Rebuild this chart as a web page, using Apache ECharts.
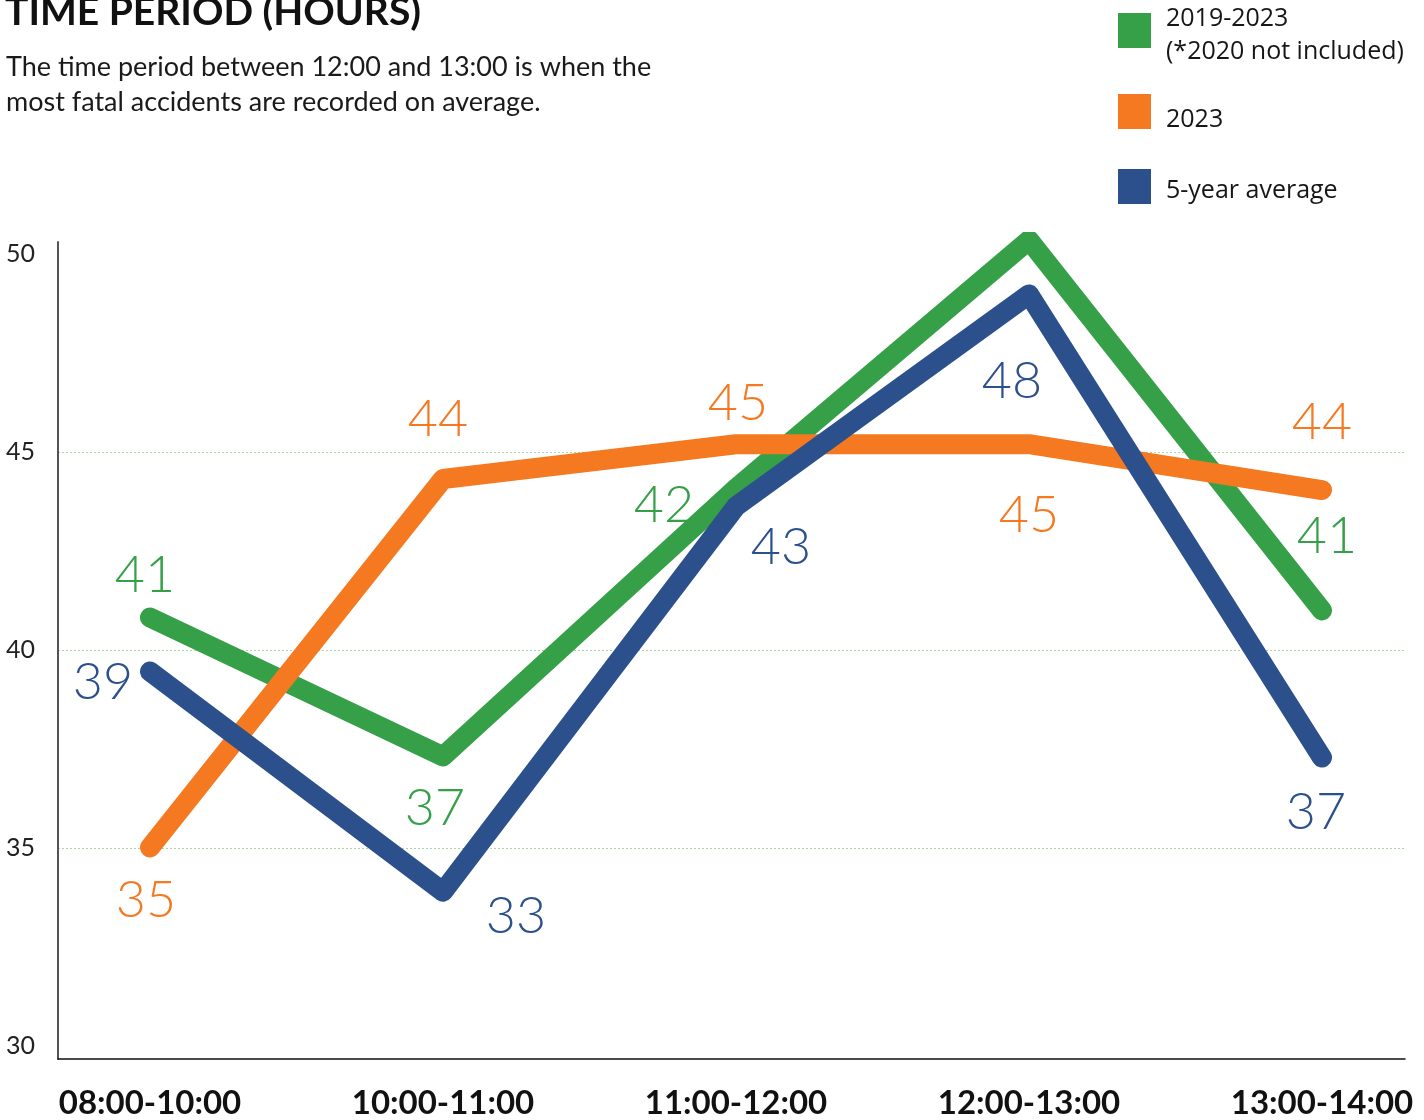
<!DOCTYPE html>
<html><head><meta charset="utf-8">
<script src="https://cdn.jsdelivr.net/npm/echarts@6/dist/echarts.min.js"></script>
<style>html,body{margin:0;padding:0;background:#fff}#c{width:1424px;height:1120px}</style>
</head><body><div id="c"></div>
<script>
// ---- data ----
const categories = ['08:00-10:00', '10:00-11:00', '11:00-12:00', '12:00-13:00', '13:00-14:00'];
const seriesNames = ['2019-2023 (*2020 not included)', '2023', '5-year average'];
const green = [40.7, 37.15, 44.0, 50.35, 40.88];
const orange = [34.82, 44.24, 45.13, 45.13, 43.96];
const blue = [39.32, 33.69, 43.54, 48.96, 37.12];
const greenLabels = ['41', '37', '42', '50', '41'];
const orangeLabels = ['35', '44', '45', '45', '44'];
const blueLabels = ['39', '33', '43', '48', '37'];
const yTickLabels = [30, 35, 40, 45, 50];
const yGridLines = [35, 40, 45];

// ---- styling (label placement) ----
const greenOff = [[-5, -42], [-8, 52], [-72, 17], [-2, -48], [5, -74]];
const orangeOff = [[-4, 53], [-5, -60], [2, -41], [0, 71], [0, -68]];
const blueOff = [[-47, 11], [73, 24], [45, 41], [-17, 87], [-6, 55]];
const C_GREEN = '#36A049', C_ORANGE = '#F47920', C_BLUE = '#2C508C';
const Y_MIN = 29.67, Y_MAX = 50.3;

function mkSeries(name, vals, labels, offs, color) {
  return {
    type: 'line', name: name, xAxisIndex: 1, yAxisIndex: 1,
    data: vals.map((v, i) => ({ value: v, label: { offset: offs[i] } })),
    symbol: 'circle', symbolSize: 1, showSymbol: true,
    itemStyle: { color: color },
    lineStyle: { color: color, width: 20, cap: 'round', join: 'round' },
    label: {
      show: true, position: 'inside', align: 'center', verticalAlign: 'middle',
      formatter: p => labels[p.dataIndex],
      fontFamily: 'Lato', fontWeight: 300, fontSize: 52, color: color
    },
    emphasis: { disabled: true },
    z: 3
  };
}

const chart = echarts.init(document.getElementById('c'), null, { renderer: 'canvas' });
function legendItem(idx, top, spacer, fmtText) {
  return {
    data: [seriesNames[idx]], left: 1118, top: top,
    orient: 'vertical', icon: 'rect', itemWidth: 33, itemHeight: 35, padding: 0,
    selectedMode: false,
    formatter: () => '{s|}\n' + fmtText.split('\n').map(t => '{a|' + t + '}').join('\n'),
    textStyle: {
      fontFamily: 'Open Sans', fontSize: 25, color: '#161616',
      rich: {
        s: { height: spacer, lineHeight: spacer, fontSize: 1 },
        a: { fontFamily: 'Open Sans', fontSize: 25, color: '#161616', lineHeight: 33, padding: [0, 0, 0, 10] }
      }
    }
  };
}
chart.setOption({
  animation: false,
  backgroundColor: '#ffffff',
  title: [
    { text: 'TIME PERIOD (HOURS)', left: 5, top: -7, padding: 0,
      textStyle: { fontFamily: 'Lato', fontWeight: 'bold', fontSize: 39, color: '#111' } },
    { text: 'The time period between 12:00 and 13:00 is when the\nmost fatal accidents are recorded on average.',
      left: 6, top: 50, padding: 0,
      textStyle: { fontFamily: 'Lato', fontWeight: 'normal', fontSize: 27, lineHeight: 35, color: '#1a1a1a' } }
  ],
  legend: [
    legendItem(0, -7.5, 10, '2019-2023\n(*2020 not included)'),
    legendItem(1, 87, 16, '2023'),
    Object.assign(legendItem(2, 165.5, 9, '5-year average'), {})
  ],
  grid: [
    { left: 58, right: 19, top: 242, bottom: 61 },
    { left: 150, right: 102, top: 242, bottom: 61 }
  ],
  xAxis: [
    { type: 'category', gridIndex: 0, data: categories,
      axisLine: { show: true, lineStyle: { color: '#111', width: 1.5 } },
      axisTick: { show: false }, axisLabel: { show: false }, splitLine: { show: false } },
    { type: 'category', gridIndex: 1, data: categories, boundaryGap: false,
      axisLine: { show: false }, axisTick: { show: false }, splitLine: { show: false },
      axisLabel: { show: true, margin: 38, fontFamily: 'Lato', fontWeight: 'bold', fontSize: 33, color: '#111' } }
  ],
  yAxis: [
    { type: 'value', gridIndex: 0, min: Y_MIN, max: Y_MAX,
      axisLine: { show: true, lineStyle: { color: '#555', width: 2 } },
      axisTick: { show: false, customValues: yGridLines },
      axisLabel: { show: true, customValues: yTickLabels, margin: 23, fontFamily: 'Lato', fontSize: 25, color: '#222' },
      splitLine: { show: true, lineStyle: { color: '#A9D6A4', width: 1, type: [2, 2] } } },
    { type: 'value', gridIndex: 1, min: Y_MIN, max: Y_MAX, show: false, splitLine: { show: false } }
  ],
  series: [
    mkSeries(seriesNames[0], green, greenLabels, greenOff, C_GREEN),
    mkSeries(seriesNames[1], orange, orangeLabels, orangeOff, C_ORANGE),
    mkSeries(seriesNames[2], blue, blueLabels, blueOff, C_BLUE)
  ]
});
</script></body></html>
